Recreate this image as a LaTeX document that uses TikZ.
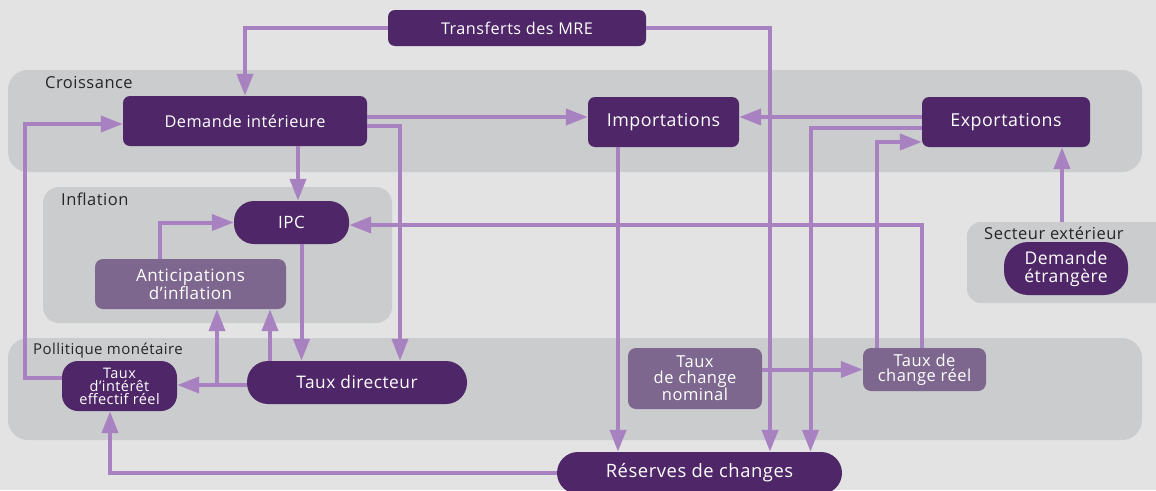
\documentclass[tikz,border=0pt]{standalone}
\usepackage{fontspec}
\setmainfont{Open Sans}[LetterSpace=3.0]
\usetikzlibrary{arrows.meta}
\definecolor{bggray}{HTML}{E3E3E3}
\definecolor{panelgray}{HTML}{CBCCCE}
\definecolor{darkpurple}{HTML}{4F2769}
\definecolor{lightpurple}{HTML}{7E678E}
\definecolor{arrpurple}{HTML}{A882C0}
\tikzset{
  mypanel/.style={fill=panelgray, rounded corners=20pt},
  mylabel/.style={anchor=west, inner sep=0pt, text=black!85,
    font=\fontsize{16.5}{18}\selectfont},
  mybox/.style={fill=darkpurple, text=white, align=center, inner sep=0pt,
    rounded corners=7pt, font=\fontsize{17.8}{19}\selectfont},
  lightbox/.style={mybox, fill=lightpurple, rounded corners=8pt},
  myarr/.style={draw=arrpurple, line width=4pt,
    -{Triangle[length=22pt,width=16pt]}},
}

\begin{document}
\begin{tikzpicture}[x=1pt,y=-1pt]
\fill[bggray] (0,0) rectangle (1156,490);
\useasboundingbox (0,0) rectangle (1156,490);
% groups
\fill[mypanel] (8,70) rectangle (1142,172);
\fill[mypanel, rounded corners=16pt] (43,187) rectangle (392,323);
\fill[mypanel, rounded corners=14pt] (967,222) rectangle (1175,303);
\fill[mypanel] (8,338) rectangle (1142,440);
\coordinate (secttop) at (1062,222);
\node[mylabel] (lcroiss) at (45,83) {Croissance};
\node[mylabel] (linfl) at (61,199) {Inflation};
\node[mylabel] (lsect) at (984,233) {Secteur extérieur};
\node[mylabel, font=\fontsize{15}{16}\selectfont] (lpolit) at (33,351) {Pollitique monétaire};
% boxes
\node[mybox, minimum width=258pt, minimum height=36pt,
  font=\fontsize{16.2}{17}\selectfont] (mre) at (517,28) {Transferts des MRE};
\node[mybox, minimum width=244pt, minimum height=50pt,
  font=\fontsize{16.3}{17}\selectfont] (demint) at (245,121) {Demande intérieure};
\node[mybox, minimum width=151pt, minimum height=50pt] (imp) at (663.5,122) {Importations};
\node[mybox, minimum width=168pt, minimum height=50pt] (exp) at (1006,122) {Exportations};
\node[mybox, minimum width=115pt, minimum height=43pt,
  rounded corners=20pt, font=\fontsize{17}{18}\selectfont] (ipc) at (291.5,222.5) {IPC};
\node[lightbox, minimum width=191pt, minimum height=50pt,
  font=\fontsize{17}{17}\selectfont] (antic) at (190.5,284) {Anticipations\\d’inflation};
\node[mybox, minimum width=124pt, minimum height=53pt, rounded corners=24pt,
  font=\fontsize{17.5}{18}\selectfont] (demetr) at (1066,268.5) {Demande\\étrangère};
\node[mybox, minimum width=115pt, minimum height=50pt, rounded corners=16pt,
  font=\fontsize{14.5}{13}\selectfont] (tint) at (119.5,386) {Taux\\d’intérêt\\effectif réel};
\node[mybox, minimum width=220pt, minimum height=43pt,
  rounded corners=21pt, font=\fontsize{17.3}{18}\selectfont] (tdir) at (357,382.5) {Taux directeur};
\node[lightbox, minimum width=134pt, minimum height=61pt,
  font=\fontsize{16.5}{15.5}\selectfont] (tnom) at (695,378.5) {Taux\\de change\\nominal};
\node[lightbox, minimum width=123pt, minimum height=43pt,
  font=\fontsize{16.5}{15.5}\selectfont] (treel) at (924.5,369.5) {Taux de\\change réel};
\node[mybox, minimum width=285pt, minimum height=42pt, rounded corners=21pt,
  font=\fontsize{18.4}{19}\selectfont] (reserv) at (699.5,473) {Réserves de changes};
% links
\draw[myarr] (mre.west) -| (demint.north);
\draw[myarr] (mre.east) -| ([xshift=70.5pt]reserv.north);
\draw[myarr] ([yshift=4pt]demint.east) -- ([yshift=4pt]demint.east -| imp.west);
\draw[myarr] ([yshift=-5pt]demint.east) -| ([xshift=43pt]tdir.north);
\draw[myarr] ([xshift=53pt]demint.south) -- ([xshift=53pt]demint.south |- ipc.north);
\draw[myarr] ([xshift=-31pt]antic.north) |- (ipc.west);
\draw[myarr] ([xshift=10pt]ipc.south) -- ([xshift=10pt]ipc.south |- tdir.north);
\draw[myarr] ([xshift=-2.5pt]treel.north) |- ([yshift=-2.5pt]ipc.east);
\draw[myarr] ([xshift=-47.5pt]treel.north) |- ([yshift=-20pt]exp.west);
\draw[myarr] ([yshift=5pt]exp.west) -- ([yshift=5pt]exp.west -| imp.east);
\draw[myarr] ([yshift=-6pt]exp.west) -| ([xshift=111pt]reserv.north);
\draw[myarr] ([xshift=-45.5pt]imp.south) -- ([xshift=-45.5pt]imp.south |- reserv.north);
\draw[myarr] (secttop) -- (secttop |- exp.south);
\draw[myarr] (treel.west -| tnom.east) -- (treel.west);
\draw[myarr] ([yshift=-2.5pt]tdir.west) -- ([yshift=-2.5pt]tdir.west -| tint.east);
\draw[myarr] ([xshift=26.5pt]antic.south |- tdir.west) -- ([xshift=26.5pt]antic.south);
\draw[myarr] ([xshift=79.5pt]antic.south |- tdir.north) -- ([xshift=79.5pt]antic.south);
\draw[myarr] ([yshift=8pt]tint.west) -- ++(-37,0) |- ([yshift=-3pt]demint.west);
\draw[myarr] (reserv.west) -| ([xshift=-9.5pt]tint.south);
\end{tikzpicture}
\end{document}
